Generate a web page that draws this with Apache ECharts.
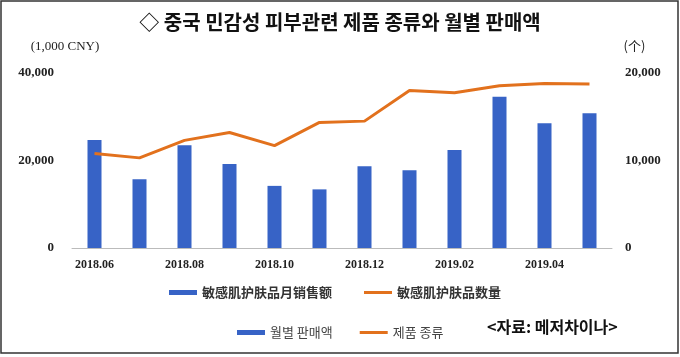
<!DOCTYPE html>
<html>
<head>
<meta charset="utf-8">
<script src="https://cdn.jsdelivr.net/npm/echarts@6/dist/echarts.min.js"></script>
<style>html,body{margin:0;padding:0;background:#fff}#c{width:680px;height:357px}</style>
</head>
<body>
<div id="c"></div>
<script>
var months = ['2018.06','2018.07','2018.08','2018.09','2018.10','2018.11','2018.12','2019.01','2019.02','2019.03','2019.04','2019.05'];
var monthlySales = [24700, 15700, 23500, 19200, 14200, 13400, 18700, 17800, 22400, 34600, 28500, 30800];
var productCount = [10800, 10300, 12300, 13200, 11700, 14350, 14500, 18000, 17750, 18550, 18800, 18750];
var leftTicks = [0, 20000, 40000];
var rightTicks = [0, 10000, 20000];

var BLUE = '#3763C6', ORANGE = '#E2711D';
var LINE_ICON = 'path://M0,0 L28,0 L28,3 L0,3 Z';
function fmt(v){ return String(v).replace(/\B(?=(\d{3})+(?!\d))/g, ','); }

var chart = echarts.init(document.getElementById('c'));
chart.setOption({
  animation: false,
  title: {
    text: '◇ 중국 민감성 피부관련 제품 종류와 월별 판매액',
    left: 'center', top: 7,
    textStyle: { fontFamily: 'Noto Sans CJK KR', fontSize: 20, fontWeight: 'bold', color: '#111' }
  },
  graphic: [{
    type: 'rect', shape: { x: 1, y: 1, width: 677, height: 352 },
    style: { fill: 'none', stroke: '#333', lineWidth: 1.5 }, silent: true
  }, {
    type: 'text', left: 487, top: 319,
    style: { text: '<자료: 메저차이나>', font: 'bold 16px "Noto Sans CJK KR"', fill: '#111' }
  }],
  grid: { left: 72, right: 68, top: 73, bottom: 109 },
  legend: [{
    left: 169, top: 286, padding: 0, itemWidth: 28, itemHeight: 5, itemGap: 32,
    textStyle: { fontFamily: 'Noto Sans CJK SC', fontSize: 13, fontWeight: 'bold', color: '#333' },
    data: [{ name: '敏感肌护肤品月销售额', icon: 'rect' }, { name: '敏感肌护肤品数量', icon: LINE_ICON, itemStyle: { color: ORANGE } }]
  }, {
    left: 237, top: 326, padding: 0, itemWidth: 28, itemHeight: 5, itemGap: 27,
    textStyle: { fontFamily: 'Noto Sans CJK KR', fontSize: 13, color: '#444' },
    data: [{ name: '월별 판매액', icon: 'rect' }, { name: '제품 종류', icon: LINE_ICON, itemStyle: { color: ORANGE } }]
  }],
  xAxis: {
    type: 'category', data: months, boundaryGap: true,
    axisLine: { lineStyle: { color: '#bbb', width: 1 } },
    axisTick: { interval: 1, length: 5, lineStyle: { color: '#bbb' } },
    axisLabel: { interval: 1, margin: 11, fontFamily: 'Liberation Serif', fontSize: 12, fontWeight: 'bold', color: '#222' }
  },
  yAxis: [{
    type: 'value', min: 0, max: 40000, interval: 20000,
    name: '(1,000 CNY)', nameLocation: 'end', nameGap: 20,
    nameTextStyle: { fontFamily: 'Liberation Serif', fontSize: 13, color: '#222', align: 'center', padding: [0, 14, 0, 0] },
    splitLine: { show: false }, axisLine: { show: false }, axisTick: { show: false },
    axisLabel: { margin: 18, formatter: fmt, fontFamily: 'Liberation Serif', fontSize: 13, fontWeight: 'bold', color: '#222' }
  }, {
    type: 'value', min: 0, max: 20000, interval: 10000,
    name: '(个)', nameLocation: 'end', nameGap: 20,
    nameTextStyle: { fontFamily: 'Noto Sans CJK SC', fontSize: 13, color: '#222', align: 'center', padding: [0, 0, 0, 45] },
    splitLine: { show: false }, axisLine: { show: false }, axisTick: { show: false },
    axisLabel: { margin: 13, formatter: fmt, fontFamily: 'Liberation Serif', fontSize: 13, fontWeight: 'bold', color: '#222' }
  }],
  series: [{
    name: '敏感肌护肤品月销售额', type: 'bar', stack: 's', yAxisIndex: 0, data: monthlySales,
    barWidth: 14, itemStyle: { color: BLUE }
  }, {
    name: '敏感肌护肤品数量', type: 'line', yAxisIndex: 1, data: productCount,
    symbol: 'none', lineStyle: { color: ORANGE, width: 3 }, itemStyle: { color: ORANGE }, z: 5
  }, {
    name: '월별 판매액', type: 'bar', stack: 's', yAxisIndex: 0, data: [],
    barWidth: 14, itemStyle: { color: BLUE }
  }, {
    name: '제품 종류', type: 'line', yAxisIndex: 1, data: [],
    symbol: 'none', lineStyle: { color: ORANGE, width: 3 }, itemStyle: { color: ORANGE }
  }]
});
</script>
</body>
</html>
